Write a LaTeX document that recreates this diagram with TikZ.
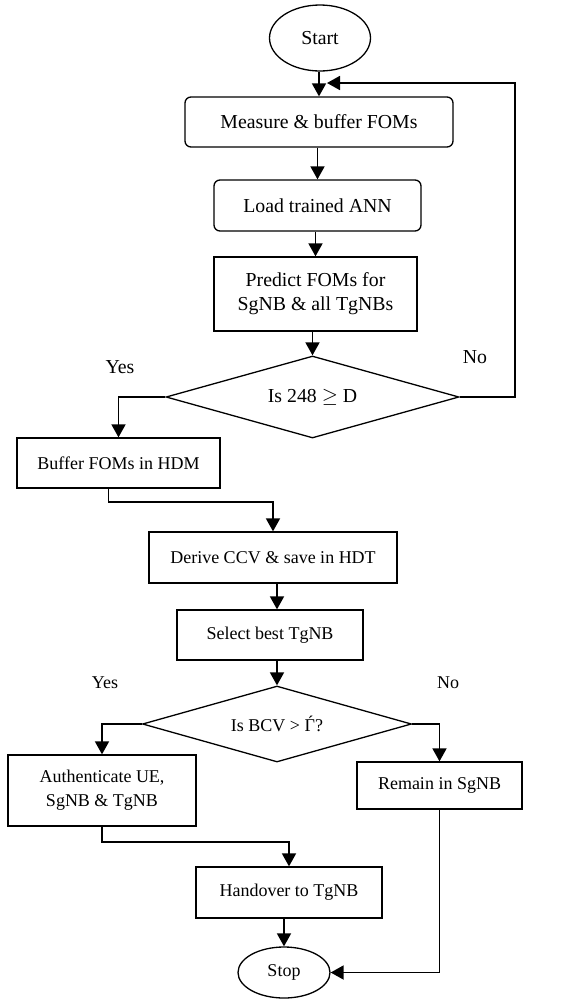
\documentclass[tikz,border=0pt]{standalone}
\usepackage{fontspec}
\setmainfont{Liberation Serif}
\usetikzlibrary{shapes.geometric,arrows.meta}
\definecolor{flowcolor0001}{RGB}{0,0,0}
\definecolor{flowcolor0002}{RGB}{255,255,255}
\begin{document}
\begin{tikzpicture}[yscale=-1
,font=\fontsize{18pt}{24pt}\selectfont
,fstyle1/.style={draw=flowcolor0001,fill=flowcolor0002,line width=1.3pt,inner sep=0pt,align=center}
,fstyle2/.style={fstyle1,rectangle}
,fstyle3/.style={fstyle1,rectangle,rounded corners=6pt}
,fstyle4/.style={fstyle1,diamond,shape aspect=3.5}
,fstyle5/.style={fstyle1,ellipse}
,fstyle6/.style={color=flowcolor0001,line width=1.8pt,-{Triangle[length=13pt,width=14pt]}}
,fstyle7/.style={font=\fontsize{19.8pt}{24pt}\selectfont}
]
\useasboundingbox[fill=flowcolor0002] (0pt,0pt) rectangle (575pt,999pt);
\node[fstyle5,fstyle7,minimum width=101pt,minimum height=66pt] (start) at (320pt,38pt) {Start};
\node[fstyle3,fstyle7,minimum width=268pt,minimum height=50pt] (measure) at (319pt,122pt) {Measure \& buffer FOMs};
\node[fstyle3,fstyle7,minimum width=207pt,minimum height=51pt] (load) at (317.5pt,205.5pt) {Load trained ANN};
\node[fstyle2,fstyle7,minimum width=203pt,minimum height=74pt] (predict) at (315.5pt,294pt) {Predict FOMs for\\SgNB \& all TgNBs};
\node[fstyle4,fstyle7,minimum width=293pt,minimum height=82pt] (dec1) at (312.5pt,397pt) {Is 248 $\geq$ D};
\node[fstyle2,minimum width=203pt,minimum height=50pt] (buffer) at (118.5pt,463pt) {Buffer FOMs in HDM};
\node[fstyle2,minimum width=248pt,minimum height=51pt] (derive) at (273pt,557.5pt) {Derive CCV \& save in HDT};
\node[fstyle2,minimum width=186pt,minimum height=50pt] (select) at (270pt,635pt) {Select best TgNB};
\node[fstyle4,minimum width=269pt,minimum height=76pt] (dec2) at (277pt,724pt) {Is BCV > Ѓ?};
\node[fstyle2,minimum width=188pt,minimum height=71pt] (auth) at (102pt,790.5pt) {Authenticate UE,\\SgNB \& TgNB};
\node[fstyle2,minimum width=165pt,minimum height=47pt] (remain) at (439.5pt,785.5pt) {Remain in SgNB};
\node[fstyle2,minimum width=186pt,minimum height=51pt] (handover) at (289pt,892.5pt) {Handover to TgNB};
\node[fstyle5,minimum width=92pt,minimum height=51pt] (stop) at (284pt,972.5pt) {Stop};
\node[fstyle7] (yes1) at (120pt,367pt) {Yes};
\node[fstyle7] (no1) at (475pt,357pt) {No};
\node (yes2) at (105pt,683pt) {Yes};
\node (no2) at (448pt,683pt) {No};
\coordinate (loop) at (515pt,83pt);
\coordinate (join) at (327pt,83pt);
\draw[fstyle6] (start.south -| measure.north) -- (measure.north);
\draw[fstyle6] (measure.south -| load.north) -- (load.north);
\draw[fstyle6] (load.south -| predict.north) -- (predict.north);
\draw[fstyle6] (predict.south -| dec1.north) -- (dec1.north);
\draw[fstyle6] (dec1.east) -| (loop) -- (join);
\draw[fstyle6] (dec1.west) -| (buffer.north);
\draw[fstyle6] ([xshift=-10pt]buffer.south) -- ++(0pt,13pt) -| (derive.north);
\draw[fstyle6] (derive.south -| dec2.north) -- (select.north -| dec2.north);
\draw[fstyle6] (select.south -| dec2.north) -- (dec2.north);
\draw[fstyle6] (dec2.west) -| (auth.north);
\draw[fstyle6] (dec2.east) -| (remain.north);
\draw[fstyle6] (auth.south) -- ++(0pt,15pt) -| (handover.north);
\draw[fstyle6] (handover.south -| stop.north) -- (stop.north);
\draw[fstyle6] (remain.south) |- (stop.east);
\end{tikzpicture}
\end{document}
